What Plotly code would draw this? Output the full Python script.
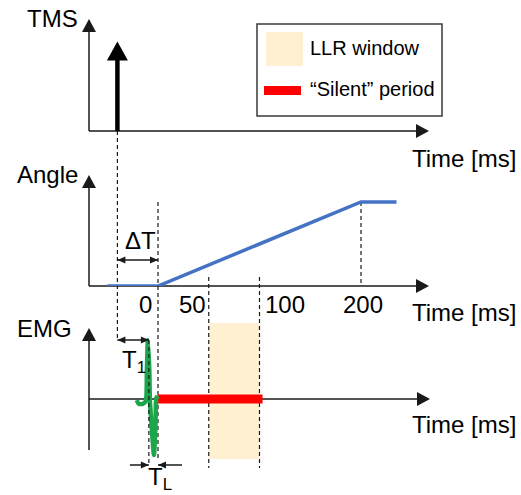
import plotly.graph_objects as go

W, H = 521, 495
FONT = "Liberation Sans, Arial, Helvetica, sans-serif"

# ---------------- data (time in ms, relative to perturbation onset) ----------------
tick_ms = [0, 50, 100, 200]
tick_labels = ["0", "50", "100", "200"]

tms_time = -40            # TMS pulse
tms_amp = 1.0

angle_t = [-50, 0, 200, 235]
angle_v = [0, 0, 1, 1]

llr_window = [50, 100]
silent_period = [0, 103]

emg_onset = -9            # onset of the evoked response
emg_t = [-21, -19, -15, -12, -11, -10, -8.5, -8, -6, -4, -2.5, -1.5, 0]
emg_v = [-0.02, -0.08, -0.08, -0.03, 0.45, 0.97, 0.45, -0.02, -0.5, -0.92, -0.45, 0.03, 0.0]

panel_names = ["TMS", "Angle", "EMG"]
legend_labels = ["LLR window", "\u201cSilent\u201d period"]

# ---------------- colours ----------------
BLUE = "#4472C4"
RED = "#FF0000"
GREEN = "#1BA64B"
PEACH = "#FEF0D0"
INK = "#1a1a1a"

# ---------------- layout geometry ----------------
X0_PX, PX_PER_MS = 158.0, 1.015          # where t=0 sits and the time scale
x_range = [(0 - X0_PX) / PX_PER_MS, (W - X0_PX) / PX_PER_MS]


def px(x):
    return x / W


def py(y):
    return 1 - y / H


AXIS_X = 89
panels = {
    # name: axis top px, baseline px, axis bottom px, arrow tip px
    "TMS": dict(top=19, base=131, bottom=131, right=429),
    "Angle": dict(top=175, base=286, bottom=286, right=429),
    "EMG": dict(top=328, base=399, bottom=450, right=430),
}

# y axes of the three panels
tms_dom = [py(131), py(19)]
tms_rng = [0, 1.25]
ang_dom = [py(286), py(175)]
ang_rng = [0, 1.32]
emg_dom = [py(460), py(338)]
emg_rng = [-1, 1]

fig = go.Figure()

# TMS pulse shaft (head drawn as a shape)
head_len = 19
units_per_px = (tms_rng[1] - tms_rng[0]) / ((tms_dom[1] - tms_dom[0]) * H)
fig.add_trace(go.Scatter(
    x=[tms_time, tms_time], y=[0, tms_amp - (head_len - 2) * units_per_px],
    mode="lines", line=dict(color="black", width=4.5), yaxis="y",
    hoverinfo="skip"))

# joint angle
fig.add_trace(go.Scatter(
    x=angle_t, y=angle_v, mode="lines", yaxis="y2",
    line=dict(color=BLUE, width=3.5), hoverinfo="skip"))

# silent period
fig.add_trace(go.Scatter(
    x=silent_period, y=[0, 0], mode="lines", yaxis="y3",
    line=dict(color=RED, width=9), hoverinfo="skip"))

# evoked EMG response
fig.add_trace(go.Scatter(
    x=emg_t, y=emg_v, mode="lines", yaxis="y3",
    line=dict(color=GREEN, width=4.5, shape="spline", smoothing=0.6),
    hoverinfo="skip"))

shapes = []
annotations = []

# LLR window band
shapes.append(dict(type="rect", xref="x", yref="paper",
                   x0=llr_window[0], x1=llr_window[1], y0=py(459), y1=py(323),
                   fillcolor=PEACH, line=dict(width=0), layer="below"))

# dashed guide lines: (time, top px, bottom px, layer)
guides = [
    (tms_time, 131, 340, "below"),
    (tick_ms[0], 202, 461, "below"),
    (emg_onset, 340, 466, "above"),
    (llr_window[0], 277, 468, "below"),
    (llr_window[1], 277, 468, "below"),
    (tick_ms[3], 202, 286, "below"),
]
for t, yt, yb, lay in guides:
    shapes.append(dict(type="line", xref="x", yref="paper", x0=t, x1=t,
                       y0=py(yt), y1=py(yb), layer=lay,
                       line=dict(color=INK, width=1.2, dash="4px,3px")))


def tri_path(pts):
    return "M " + " L ".join(f"{px(a):.5f},{py(b):.5f}" for a, b in pts) + " Z"


# panel axes with arrowheads
for name, g in panels.items():
    shapes.append(dict(type="line", xref="paper", yref="paper",
                       x0=px(AXIS_X), x1=px(AXIS_X), y0=py(g["bottom"]), y1=py(g["top"] + 12),
                       line=dict(color=INK, width=1.5), layer="below"))
    shapes.append(dict(type="path", xref="paper", yref="paper",
                       path=tri_path([(AXIS_X - 7, g["top"] + 13), (AXIS_X + 7, g["top"] + 13),
                                      (AXIS_X, g["top"])]),
                       fillcolor=INK, line=dict(width=0)))
    shapes.append(dict(type="line", xref="paper", yref="paper",
                       x0=px(AXIS_X), x1=px(g["right"] - 12), y0=py(g["base"]), y1=py(g["base"]),
                       line=dict(color=INK, width=1.5), layer="below"))
    shapes.append(dict(type="path", xref="paper", yref="paper",
                       path=tri_path([(g["right"] - 13, g["base"] - 7), (g["right"] - 13, g["base"] + 7),
                                      (g["right"], g["base"])]),
                       fillcolor=INK, line=dict(width=0)))

# TMS pulse arrowhead, anchored at the pulse tip
shapes.append(dict(type="path", xref="x", yref="y", xsizemode="pixel", ysizemode="pixel",
                   xanchor=tms_time, yanchor=tms_amp,
                   path=f"M -10.5,-{head_len} L 10.5,-{head_len} L 0,0 Z",
                   fillcolor="black", line=dict(width=0)))


def interval_arrow(t_from, t_to, y_px, heads="both"):
    """Thin arrow between two times at a fixed pixel height."""
    shapes.append(dict(type="line", xref="x", yref="paper", x0=t_from, x1=t_to,
                       y0=py(y_px), y1=py(y_px), line=dict(color=INK, width=1.5)))
    ends = []
    if heads in ("both", "end"):
        ends.append((t_to, 1 if t_to > t_from else -1))
    if heads == "both":
        ends.append((t_from, -1 if t_to > t_from else 1))
    for t, d in ends:
        shapes.append(dict(type="path", xref="x", yref="paper", xsizemode="pixel",
                           ysizemode="pixel", xanchor=t, yanchor=py(y_px),
                           path=f"M {-8 * d},3.5 L {-8 * d},-3.5 L 0,0 Z",
                           fillcolor=INK, line=dict(width=0)))


# ΔT: TMS to perturbation onset
interval_arrow(tms_time, tick_ms[0], 260)
# T1: TMS to response onset
interval_arrow(tms_time, emg_onset, 340)
# TL: response onset to perturbation onset, pointed in from outside
interval_arrow(emg_onset - 19 / PX_PER_MS, emg_onset, 465, heads="end")
interval_arrow(tick_ms[0] + 24 / PX_PER_MS, tick_ms[0], 465, heads="end")


def label(text, x, y, size=24, xanchor="center", xref="paper"):
    annotations.append(dict(text=text, x=x, y=y, xref=xref, yref="paper",
                            xanchor=xanchor, yanchor="middle", showarrow=False,
                            font=dict(family=FONT, size=size, color="black")))


# panel titles
label(panel_names[0], px(25), py(18), xanchor="left")
label(panel_names[1], px(15), py(174), xanchor="left")
label(panel_names[2], px(15), py(328), xanchor="left")

# time-axis titles
for yy in (158, 312, 424):
    label("Time [ms]", px(518), py(yy), xanchor="right")

# tick labels beside their guide lines
tick_shift = [-12.5, -16, 25.5, 2]
for t, s, sh in zip(tick_ms, tick_labels, tick_shift):
    annotations.append(dict(text=s, x=t, y=py(304), xref="x", yref="paper", xshift=sh,
                            xanchor="center", yanchor="middle", showarrow=False,
                            font=dict(family=FONT, size=24, color="black")))

label("\u0394T", px(140), py(240))
label("T<sub>1</sub>", px(134), py(361))
label("T<sub>L</sub>", px(160), py(478))

# legend box
shapes.append(dict(type="rect", xref="paper", yref="paper", x0=px(257), x1=px(442),
                   y0=py(116), y1=py(24), fillcolor="white",
                   line=dict(color="#3a3a3a", width=1.5)))
shapes.append(dict(type="rect", xref="paper", yref="paper", x0=px(266), x1=px(303),
                   y0=py(66), y1=py(32), fillcolor=PEACH, line=dict(width=0)))
shapes.append(dict(type="rect", xref="paper", yref="paper", x0=px(264), x1=px(301),
                   y0=py(95), y1=py(86), fillcolor=RED, line=dict(width=0)))
label(legend_labels[0], px(308), py(48), size=20, xanchor="left")
label(legend_labels[1], px(308), py(89), size=20, xanchor="left")

fig.update_layout(
    width=W, height=H,
    margin=dict(l=0, r=0, t=0, b=0),
    paper_bgcolor="white", plot_bgcolor="white",
    showlegend=False,
    xaxis=dict(range=x_range, visible=False, fixedrange=True),
    yaxis=dict(domain=tms_dom, range=tms_rng, visible=False, fixedrange=True),
    yaxis2=dict(domain=ang_dom, range=ang_rng, visible=False, fixedrange=True, anchor="x"),
    yaxis3=dict(domain=emg_dom, range=emg_rng, visible=False, fixedrange=True, anchor="x"),
    shapes=shapes,
    annotations=annotations,
)

fig.write_html("out.html")
